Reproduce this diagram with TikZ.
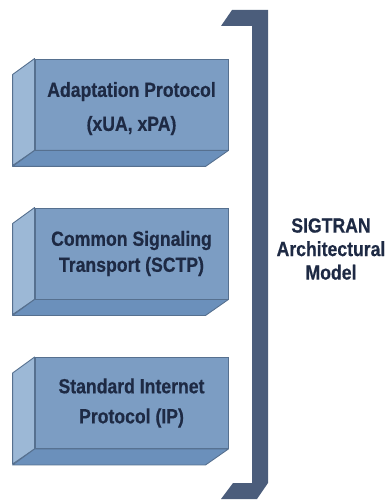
\documentclass[tikz,border=0pt]{standalone}
\usepackage{fontspec}
\newfontfamily\labelfont[FakeStretch=0.86,FakeBold=0.5]{Liberation Sans}
\definecolor{faceblue}{HTML}{7C9DC3}
\definecolor{sideblue}{HTML}{9CB8D6}
\definecolor{bottomblue}{HTML}{6B90BB}
\definecolor{edgeblue}{HTML}{56708F}
\definecolor{bracketblue}{HTML}{4B5D7B}
\definecolor{inkblue}{HTML}{1E2A44}
\begin{document}
\begin{tikzpicture}[x=1pt,y=-1pt,
  labeltext/.style={font=\labelfont\bfseries\fontsize{20.5}{24}\selectfont, text=inkblue, align=center},
  frontface/.style={labeltext, draw=edgeblue, line width=0.9pt, fill=faceblue,
    minimum width=193pt, minimum height=91pt, inner sep=0pt},
  sideface/.style={draw=edgeblue, line width=0.9pt, fill=sideblue, line join=round},
  baseface/.style={draw=edgeblue, line width=0.9pt, fill=bottomblue, line join=round}]
\useasboundingbox (0,0) rectangle (387,502);

% three protocol layers, each a block seen slightly from the lower left
\node[frontface] (adapt) at (131.5,104.5) {\rule{0pt}{23pt}Adaptation Protocol\\[10pt](xUA, xPA)};
\node[frontface] (sctp)  at (131.5,253.5) {Common Signaling\\[2pt]Transport (SCTP)};
\node[frontface] (ip)    at (131.5,403)   {Standard Internet\\[6pt]Protocol (IP)};

\foreach \blk in {adapt,sctp,ip}{
  \draw[sideface] (\blk.north west) -- ++(-22,16) -- ++(0,91) -- (\blk.south west) -- cycle;
  \draw[baseface] (\blk.south west) -- ++(-22,16) -- ++(193,0) -- (\blk.south east) -- cycle;
}

% bracket grouping the layers
\fill[bracketblue] (232,10) -- (268,10) -- (268,483) -- (257,499) -- (221,499)
  -- (233,483) -- (252,483) -- (252,26) -- (221,26) -- cycle;

\node[labeltext, font=\labelfont\bfseries\fontsize{20.5}{23.5}\selectfont] (model) at (331,249)
  {SIGTRAN\\Architectural\\Model};
\end{tikzpicture}
\end{document}
